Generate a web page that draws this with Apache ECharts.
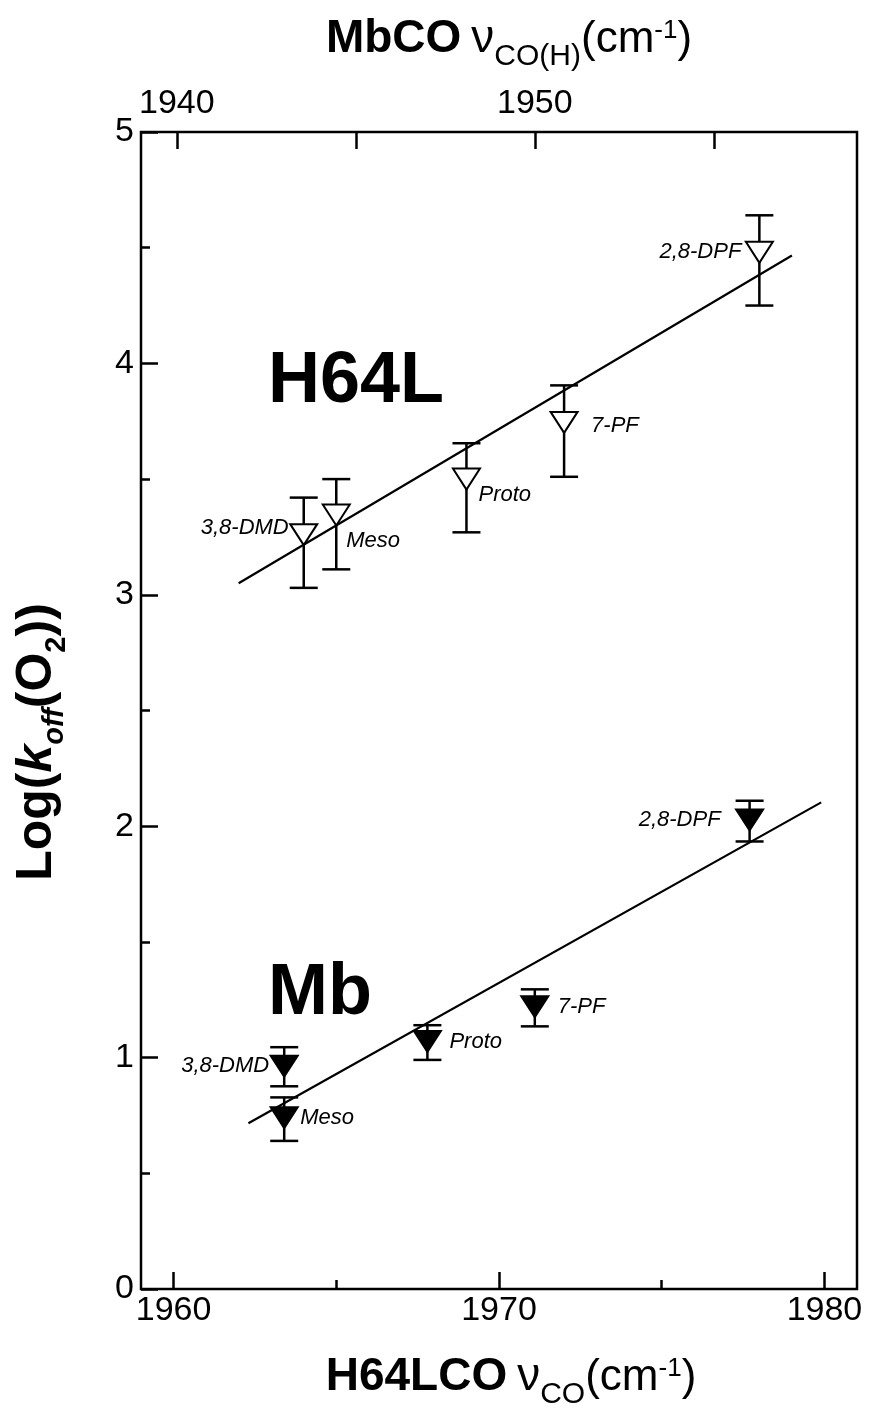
<!DOCTYPE html>
<html>
<head>
<meta charset="utf-8">
<script src="https://cdn.jsdelivr.net/npm/echarts@6/dist/echarts.min.js"></script>
<style>
  html, body { margin: 0; padding: 0; background: #fff; }
  #chart { width: 871px; height: 1409px; }
</style>
</head>
<body>
<div id="chart"></div>
<script>
// Heme variants (same order in every series)
const hemeNames = ['3,8-DMD', 'Meso', 'Proto', '7-PF', '2,8-DPF'];

// H64L myoglobin: nu_CO of H64L-CO (cm-1) vs log koff(O2)
const h64lNuCO = [1964, 1965, 1969, 1972, 1978];
const h64lLogKoff = [3.26, 3.345, 3.50, 3.745, 4.48];
const h64lErrLow = [3.03, 3.11, 3.27, 3.51, 4.25];
const h64lErrHigh = [3.42, 3.50, 3.655, 3.905, 4.64];

// native Mb: nu_CO(H) of MbCO (cm-1) vs log koff(O2)
const mbNuCO = [1943, 1943, 1947, 1950, 1956];
const mbLogKoff = [0.963, 0.74, 1.07, 1.22, 2.027];
const mbErrLow = [0.876, 0.64, 0.99, 1.135, 1.934];
const mbErrHigh = [1.045, 0.828, 1.14, 1.295, 2.11];

// linear fits (end points)
const h64lFitX = [1962, 1979];
const h64lFitY = [3.05, 4.466];
const mbFitX = [1942, 1958];
const mbFitY = [0.716, 2.103];

// axis ticks
const bottomMajorTicks = [1960, 1970, 1980];
const bottomMinorTicks = [1965, 1975];
const topTicks = [1940, 1945, 1950, 1955];
const topTickLabels = [1940, 1950];
const leftMajorTicks = [0, 1, 2, 3, 4, 5];
const leftMinorTicks = [0.5, 1.5, 2.5, 3.5, 4.5];

const FONT = '"Liberation Sans", Arial, Helvetica, sans-serif';

// label placement around each marker: [align, dx, dy]
const h64lLabelPlace = {
  '3,8-DMD': ['right', -15, -7],
  'Meso': ['left', 10, 26],
  'Proto': ['left', 12, 16],
  '7-PF': ['left', 27, 3],
  '2,8-DPF': ['right', -18, 0]
};
const mbLabelPlace = {
  '3,8-DMD': ['right', -15, 0],
  'Meso': ['left', 16, 0],
  'Proto': ['left', 22, 0],
  '7-PF': ['left', 23, 0],
  '2,8-DPF': ['right', -29, 0]
};

const chart = echarts.init(document.getElementById('chart'), null, { renderer: 'canvas' });

function errorSeries(xIndex, xs, ys, lo, hi, filled, place) {
  return {
    type: 'custom',
    xAxisIndex: xIndex,
    yAxisIndex: 0,
    z: 3,
    silent: true,
    data: xs.map((x, i) => [x, ys[i], lo[i], hi[i], i]),
    renderItem: function (params, api) {
      const x = api.value(0);
      const c = api.coord([x, api.value(1)]);
      const lowP = api.coord([x, api.value(2)]);
      const highP = api.coord([x, api.value(3)]);
      const name = hemeNames[api.value(4)];
      const lp = place[name];
      const cap = 14, hw = 13.5, hh = 10.5;
      const ls = { stroke: '#000', lineWidth: 2.5 };
      return {
        type: 'group',
        children: [
          { type: 'line', shape: { x1: c[0], y1: highP[1], x2: c[0], y2: lowP[1] }, style: ls },
          { type: 'line', shape: { x1: c[0] - cap, y1: highP[1], x2: c[0] + cap, y2: highP[1] }, style: ls },
          { type: 'line', shape: { x1: c[0] - cap, y1: lowP[1], x2: c[0] + cap, y2: lowP[1] }, style: ls },
          {
            type: 'polygon',
            shape: { points: [[c[0] - hw, c[1] - hh], [c[0] + hw, c[1] - hh], [c[0], c[1] + hh]] },
            style: { fill: filled ? '#000' : '#fff', stroke: '#000', lineWidth: 2, lineJoin: 'miter' }
          },
          {
            type: 'text',
            x: c[0] + lp[1],
            y: c[1] + lp[2],
            style: {
              text: name, fill: '#000', fontFamily: FONT, fontSize: 22, fontStyle: 'italic',
              align: lp[0], verticalAlign: 'middle'
            }
          }
        ]
      };
    }
  };
}

function fitSeries(xIndex, xs, ys) {
  return {
    type: 'line',
    xAxisIndex: xIndex,
    yAxisIndex: 0,
    z: 4,
    silent: true,
    symbol: 'none',
    data: xs.map((x, i) => [x, ys[i]]),
    lineStyle: { color: '#000', width: 2.2 }
  };
}

// text runs laid out along a baseline (for sub/superscripts)
const measureCtx = document.createElement('canvas').getContext('2d');
function layoutRuns(parts) {
  let x = 0;
  const items = [];
  parts.forEach(p => {
    const weight = p.bold ? 'bold' : 'normal';
    const style = p.italic ? 'italic' : 'normal';
    measureCtx.font = style + ' ' + weight + ' ' + p.size + 'px ' + FONT;
    items.push({
      type: 'text',
      x: x + (p.pre || 0),
      y: (p.dy || 0) - 0.3465 * p.size,
      style: {
        text: p.t, fill: '#000', fontFamily: FONT, fontSize: p.size,
        fontWeight: weight, fontStyle: style, align: 'left', verticalAlign: 'middle'
      }
    });
    x += (p.pre || 0) + measureCtx.measureText(p.t).width;
  });
  return { items, width: x };
}

function centeredTitle(parts, cx, baseline) {
  const r = layoutRuns(parts);
  return { type: 'group', x: cx - r.width / 2, y: baseline, children: r.items, silent: true };
}

const topTitle = centeredTitle([
  { t: 'MbCO', size: 46, bold: true },
  { t: '\u03BD', size: 46, pre: 10 },
  { t: 'CO(H)', size: 30, dy: 12 },
  { t: '(cm', size: 44 },
  { t: '-1', size: 26, dy: -15 },
  { t: ')', size: 44 }
], 509, 55);

const bottomTitle = centeredTitle([
  { t: 'H64LCO', size: 46, bold: true },
  { t: '\u03BD', size: 46, pre: 10 },
  { t: 'CO', size: 30, dy: 12 },
  { t: '(cm', size: 44 },
  { t: '-1', size: 26, dy: -15 },
  { t: ')', size: 44 }
], 511, 1393);

const yRuns = layoutRuns([
  { t: 'Log(', size: 50, bold: true },
  { t: 'k', size: 50, bold: true, italic: true },
  { t: 'off', size: 29, bold: true, italic: true, dy: 10 },
  { t: '(O', size: 50, bold: true },
  { t: '2', size: 29, bold: true, dy: 12 },
  { t: '))', size: 50, bold: true }
]);
const yTitle = {
  type: 'group',
  x: 55,
  y: 742 + yRuns.width / 2,
  rotation: Math.PI / 2,
  children: yRuns.items,
  silent: true
};

const tickStyle = { color: '#000', width: 2.5 };
const labelStyle = { color: '#000', fontFamily: FONT, fontSize: 34, formatter: v => String(v) };
const noLine = { show: false, onZero: false };

const option = {
  animation: false,
  backgroundColor: '#fff',
  grid: {
    left: 141, right: 14, top: 132, bottom: 120,
    show: true, borderColor: '#000', borderWidth: 2.5, backgroundColor: 'transparent',
    containLabel: false, outerBoundsMode: 'none'
  },
  xAxis: [
    {
      type: 'value', position: 'bottom', min: 1959, max: 1981,
      axisLine: noLine, splitLine: { show: false },
      axisTick: { show: true, inside: true, length: 17, lineStyle: tickStyle, customValues: bottomMajorTicks },
      axisLabel: Object.assign({ show: true, margin: 5, customValues: bottomMajorTicks }, labelStyle)
    },
    {
      type: 'value', position: 'top', min: 1939, max: 1959,
      axisLine: noLine, splitLine: { show: false },
      axisTick: { show: true, inside: true, length: 17, lineStyle: tickStyle, customValues: topTicks },
      axisLabel: Object.assign({ show: true, margin: 11, customValues: topTickLabels }, labelStyle)
    },
    {
      type: 'value', position: 'bottom', min: 1959, max: 1981,
      axisLine: noLine, splitLine: { show: false },
      axisTick: { show: true, inside: true, length: 9, lineStyle: tickStyle, customValues: bottomMinorTicks },
      axisLabel: { show: false }
    }
  ],
  yAxis: [
    {
      type: 'value', position: 'left', min: 0, max: 5, interval: 1,
      axisLine: noLine, splitLine: { show: false },
      axisTick: { show: true, inside: true, length: 17, lineStyle: tickStyle, customValues: leftMajorTicks },
      axisLabel: Object.assign({ show: true, margin: 7, customValues: leftMajorTicks }, labelStyle)
    },
    {
      type: 'value', position: 'left', min: 0, max: 5,
      axisLine: noLine, splitLine: { show: false },
      axisTick: { show: true, inside: true, length: 9, lineStyle: tickStyle, customValues: leftMinorTicks },
      axisLabel: { show: false }
    }
  ],
  series: [
    errorSeries(0, h64lNuCO, h64lLogKoff, h64lErrLow, h64lErrHigh, false, h64lLabelPlace),
    errorSeries(1, mbNuCO, mbLogKoff, mbErrLow, mbErrHigh, true, mbLabelPlace),
    fitSeries(0, h64lFitX, h64lFitY),
    fitSeries(1, mbFitX, mbFitY)
  ],
  graphic: [
    topTitle,
    bottomTitle,
    yTitle,
    {
      type: 'text', x: 268, y: 382, silent: true,
      style: { text: 'H64L', fill: '#000', fontFamily: FONT, fontSize: 72, fontWeight: 'bold', align: 'left', verticalAlign: 'middle' }
    },
    {
      type: 'text', x: 268, y: 994, silent: true,
      style: { text: 'Mb', fill: '#000', fontFamily: FONT, fontSize: 72, fontWeight: 'bold', align: 'left', verticalAlign: 'middle' }
    }
  ]
};

chart.setOption(option);
</script>
</body>
</html>
